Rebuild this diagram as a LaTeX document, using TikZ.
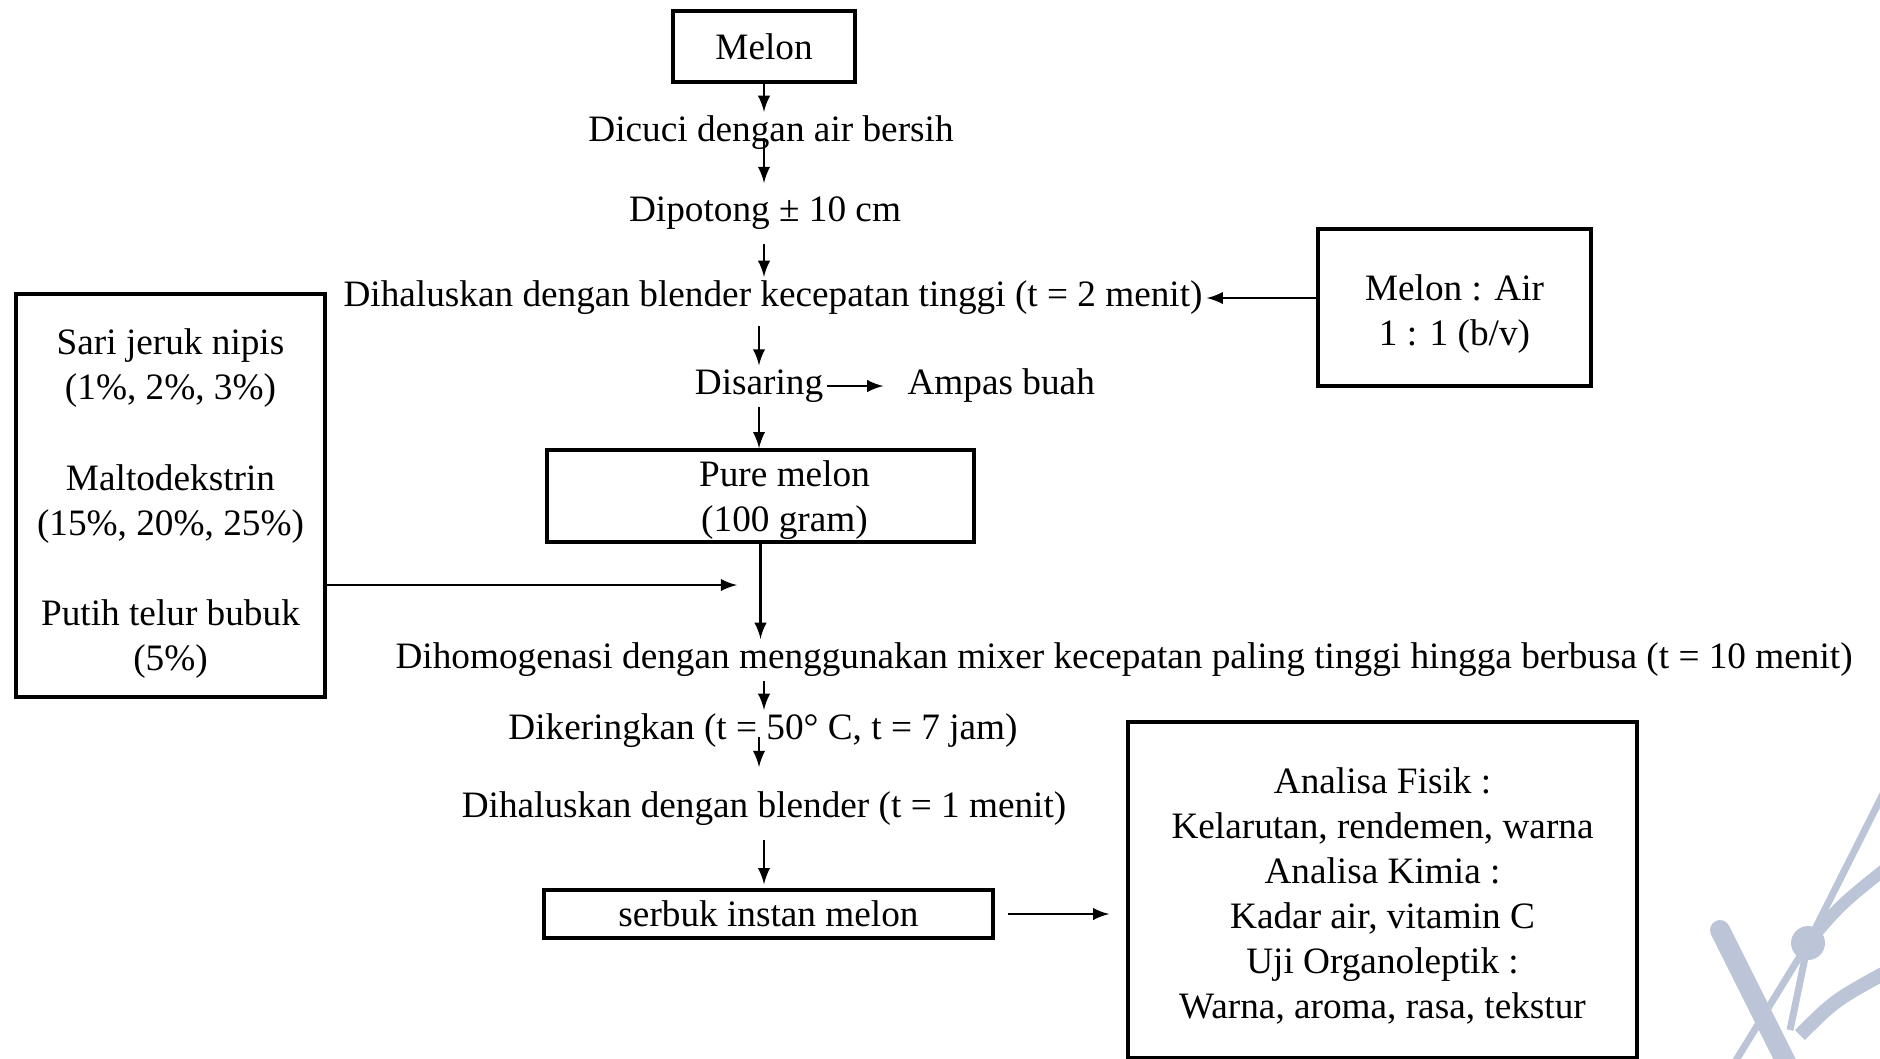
\documentclass[tikz,border=0pt]{standalone}
\usepackage{fontspec}
\setmainfont{Liberation Serif}
\usetikzlibrary{positioning}
\newcommand{\turun}[1]{\rule{0pt}{#1}}

\begin{document}
\begin{tikzpicture}[font=\fontsize{10.6pt}{12.8pt}\selectfont]
\tikzstyle{main}=[rectangle, line width=1pt, draw=black, align=center, inner sep=1pt]
\tikzstyle{proses}=[inner sep=1pt, align=center]
\tikzstyle{connect}=[draw, -latex, semithick]
\definecolor{logo}{RGB}{188,196,216}
\useasboundingbox (0,0) rectangle (18.8,-10.58);
% watermark
\begin{scope}
\clip (0,0) rectangle (18.8,-10.58);
\draw[logo, line width=2mm, line cap=round] (17.2,-9.3) -- (17.95,-10.8);
\draw[logo, line width=0.7mm] (18.08,-9.43) -- (18.9,-7.8);
\draw[logo, line width=0.7mm] (18.08,-9.43) -- (17.3,-10.7);
\draw[logo, line width=0.7mm] (18.08,-9.43) -- (17.9,-10.3);
\draw[logo, line width=1.2mm] (18.08,-9.43) .. controls (18.4,-9.05) .. (18.9,-8.65);
\draw[logo, line width=1.4mm] (18.0,-10.35) .. controls (18.35,-10.0) .. (18.9,-9.7);
\fill[logo] (18.08,-9.43) circle (0.17);
\end{scope}
% main chain
\node[main, minimum width=18.2mm, minimum height=7.1mm] (melon) at (7.64,-0.465) {Melon};
\node[proses] (dicuci) at (7.71,-1.33) {Dicuci dengan air bersih};
\node[proses] (dipotong) at (7.65,-2.13) {Dipotong ± 10 cm};
\node[proses] (haluskan) at (7.73,-2.98) {Dihaluskan dengan blender kecepatan tinggi (t = 2 menit)};
\node[main, minimum width=27.3mm, minimum height=15.7mm] (rasio) at (14.545,-3.075) {\turun{11.3pt}Melon : Air\\1 : 1 (b/v)};
\node[proses] (disaring) at (7.59,-3.86) {Disaring};
\node[proses] (ampas) [right=0.76cm of disaring] {Ampas buah};
\node[main, minimum width=42.7mm, minimum height=9.2mm] (pure) at (7.605,-4.96) {\hspace*{4.8mm}Pure melon\\\hspace*{4.8mm}\raisebox{0pt}[\height][0pt]{(100 gram)}};
\node[main, minimum width=30.9mm, minimum height=40.3mm] (bahan) at (1.705,-4.955) {\fontsize{10.6pt}{13pt}\selectfont\turun{12.1pt}Sari jeruk nipis\\(1\%, 2\%, 3\%)\\[13pt]Maltodekstrin\\(15\%, 20\%, 25\%)\\[13pt]Putih telur bubuk\\(5\%)};
\coordinate (gabung) at (7.37,-5.85);
\node[proses] (homogen) at (11.24,-6.60) {Dihomogenasi dengan menggunakan mixer kecepatan paling tinggi hingga berbusa (t = 10 menit)};
\node[proses] (kering) at (7.63,-7.31) {Dikeringkan (t = 50° C, t = 7 jam)};
\node[proses] (haluskan2) at (7.64,-8.09) {Dihaluskan dengan blender (t = 1 menit)};
\node[main, minimum width=44.9mm, minimum height=4.8mm] (serbuk) at (7.685,-9.14) {serbuk instan melon};
\node[main, minimum width=50.9mm, minimum height=33.6mm] (analisa) at (13.825,-8.9) {\turun{10.6pt}Analisa Fisik :\\Kelarutan, rendemen, warna\\Analisa Kimia :\\Kadar air, vitamin C\\Uji Organoleptik :\\Warna, aroma, rasa, tekstur};
\path (melon.south) edge [connect] (melon.south |- dicuci.north)
      (7.64,-1.38) edge [connect] (7.64,-1.83)
      (dipotong.south -| melon.south) edge [connect, shorten <=1mm] (haluskan.north -| melon.south)
      (rasio.west |- haluskan.east) edge [connect] (haluskan.east)
      (haluskan.south -| disaring) edge [connect, shorten <=0.7mm] (disaring.north)
      (disaring) edge [connect, shorten >=2mm] (ampas)
      (disaring.south) edge [connect] (disaring.south |- pure.north)
      (pure.south) edge [connect] (pure.south |- homogen.north)
      (bahan.east |- gabung) edge [connect] (gabung)
      (homogen.south -| melon.south) edge [connect] (kering.north -| melon.south)
      (7.59,-7.37) edge [connect] (7.59,-7.67)
      (haluskan2.south) edge [connect, shorten <=1mm, shorten >=0.4mm] (haluskan2.south |- serbuk.north)
      (serbuk.east) edge [connect, shorten <=1.3mm, shorten >=1.7mm] (analisa.west |- serbuk.east);
\end{tikzpicture}
\end{document}
